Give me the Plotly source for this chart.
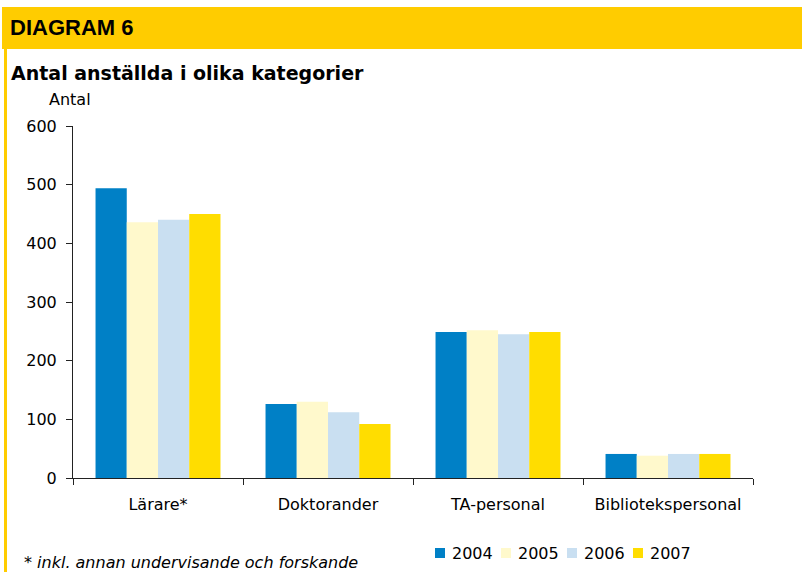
import plotly.graph_objects as go

categories = ["Lärare*", "Doktorander", "TA-personal", "Bibliotekspersonal"]
years = ["2004", "2005", "2006", "2007"]
values_2004 = [494, 126, 249, 41]
values_2005 = [436, 130, 252, 38]
values_2006 = [440, 112, 245, 41]
values_2007 = [450, 92, 249, 41]
y_ticks = [0, 100, 200, 300, 400, 500, 600]

series = [values_2004, values_2005, values_2006, values_2007]
colors = ["#0080C6", "#FFF9CC", "#C9DFF1", "#FFDD00"]

W, H = 802, 572
L, R, T, B = 73, 49, 126, 94
pw, ph = W - L - R, H - T - B

# pixel -> paper helpers (paper is the plot area)
def px(x):
    return (x - L) / pw


def py(y):
    return (H - B - y) / ph


fig = go.Figure()
for year, vals, col in zip(years, series, colors):
    fig.add_trace(go.Bar(x=categories, y=vals, name=year, marker_color=col,
                         marker_line_width=0, showlegend=False))

wide = "DejaVu Sans, Verdana, sans-serif"
arial = "Liberation Sans, Arial, sans-serif"

shapes = [
    dict(type="rect", xref="paper", yref="paper", x0=px(2), x1=px(802),
         y0=py(49), y1=py(7), fillcolor="#FFCC00", line_width=0, layer="below"),
    dict(type="rect", xref="paper", yref="paper", x0=px(4), x1=px(7),
         y0=py(572), y1=py(49), fillcolor="#FFCC00", line_width=0, layer="below"),
]
annotations = [
    dict(text="<b>DIAGRAM 6</b>", xref="paper", yref="paper", x=px(8), y=py(27),
         xanchor="left", yanchor="middle", showarrow=False,
         font=dict(family=arial, size=22, color="black")),
    dict(text="<b>Antal anställda i olika kategorier</b>", xref="paper", yref="paper",
         x=px(9), y=py(73), xanchor="left", yanchor="middle", showarrow=False,
         font=dict(family=wide, size=19, color="black")),
    dict(text="Antal", xref="paper", yref="paper", x=px(47), y=py(100),
         xanchor="left", yanchor="middle", showarrow=False,
         font=dict(family=wide, size=16)),
    dict(text="<i>* inkl. annan undervisande och forskande</i>", xref="paper",
         yref="paper", x=px(22), y=py(562), xanchor="left", yanchor="middle",
         showarrow=False, font=dict(family=wide, size=16)),
]

# legend drawn by hand: small squares followed by the year
for i, (year, col) in enumerate(zip(years, colors)):
    x0 = 435 + 66 * i
    shapes.append(dict(type="rect", xref="paper", yref="paper", x0=px(x0),
                       x1=px(x0 + 10), y0=py(558), y1=py(548), fillcolor=col,
                       line_width=0))
    annotations.append(dict(text=year, xref="paper", yref="paper", x=px(x0 + 15),
                            y=py(553), xanchor="left", yanchor="middle",
                            showarrow=False, font=dict(family=wide, size=16)))

fig.update_layout(
    width=W, height=H,
    margin=dict(l=L, r=R, t=T, b=B),
    paper_bgcolor="white", plot_bgcolor="white",
    barmode="group", bargap=0.265, bargroupgap=0,
    font=dict(family=wide, size=16, color="black"),
    showlegend=False,
    shapes=shapes,
    annotations=annotations,
)
fig.update_xaxes(showline=True, linecolor="#222222", linewidth=1, ticks="outside",
                 ticklen=6, tickcolor="#222222", tickson="boundaries", showgrid=False,
                 tickfont=dict(size=16), ticklabelstandoff=12)
fig.update_yaxes(range=[0, 600], tickvals=y_ticks, showline=True, linecolor="#222222",
                 linewidth=1, ticks="outside", ticklen=6, tickcolor="#222222",
                 showgrid=False, zeroline=False, tickfont=dict(size=16),
                 ticklabelstandoff=6)

fig.write_html("out.html", post_script="document.body.style.margin='0';",
               config={"displayModeBar": False})
